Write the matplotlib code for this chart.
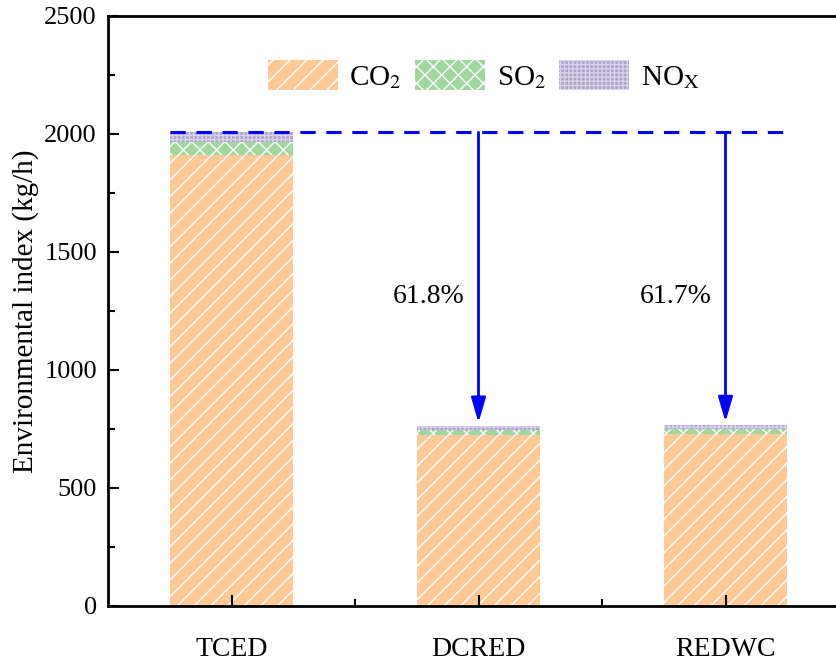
import numpy as np
import matplotlib.pyplot as plt
from matplotlib.patches import Patch

plt.rcParams['font.family'] = ['Liberation Serif', 'DejaVu Serif']
plt.rcParams['mathtext.fontset'] = 'stix'

# data (kg/h)
schemes = ['TCED', 'DCRED', 'REDWC']
co2 = np.array([1912, 725, 727])
so2 = np.array([55, 21, 21])
nox = np.array([40, 16, 17])
reductions = ['61.8%', '61.7%']

c_co2 = '#ffc996'
c_so2 = '#9fd79c'
c_nox = '#ada4cc'

fig = plt.figure(figsize=(8.37, 6.66), dpi=100)
ax = fig.add_axes([108 / 837, 60 / 666, 741 / 837, 590 / 666])

x = np.arange(1, len(schemes) + 1)
w = 0.5
ax.bar(x, co2, w, color=c_co2, edgecolor='white', linewidth=0, hatch='//')
ax.bar(x, so2, w, bottom=co2, color=c_so2, edgecolor='white', linewidth=0, hatch='xx')
ax.bar(x, nox, w, bottom=co2 + so2, color=c_nox, edgecolor='#d8d2ea', linewidth=0, hatch='++++')

total = co2 + so2 + nox
# reference line at the TCED total
ax.hlines(total[0], x[0] - w / 2, x[-1] + w / 2, colors='#0000ff',
          linestyles=(0, (5, 3.5)), linewidth=2.2, zorder=3)

for i, lab in zip(range(1, 3), reductions):
    ax.annotate('', xy=(x[i], total[i] + 15), xytext=(x[i], total[0]),
                arrowprops=dict(arrowstyle='-|>,head_length=0.75,head_width=0.22',
                                color='#0000ff', lw=2, mutation_scale=20,
                                shrinkA=0, shrinkB=0))
    ax.text(x[i] - 0.2, 1313, lab, ha='center', va='center', fontsize=20)

ax.set_xlim(0.5, 3.5)
ax.set_ylim(0, 2500)
ax.set_xticks(x)
ax.set_xticklabels(schemes)
ax.set_xticks([1.5, 2.5], minor=True)
ax.set_yticks(np.arange(0, 2501, 500))
ax.set_yticks(np.arange(250, 2500, 500), minor=True)
ax.tick_params(which='both', direction='in', width=1.5, labelsize=19)
ax.tick_params(which='major', length=8)
ax.tick_params(which='minor', length=5)
ax.tick_params(axis='x', pad=22, labelsize=20)
ax.tick_params(axis='y', pad=8)
for s in ax.spines.values():
    s.set_linewidth(2)
ax.set_ylabel('Environmental index (kg/h)', fontsize=21, labelpad=4)

handles = [Patch(facecolor=c_co2, edgecolor='white', linewidth=0, hatch='//'),
           Patch(facecolor=c_so2, edgecolor='white', linewidth=0, hatch='xx'),
           Patch(facecolor=c_nox, edgecolor='#d8d2ea', linewidth=0, hatch='++++')]
ax.legend(handles, [r'CO$_2$', r'SO$_2$', r'NO$_\mathrm{X}$'], ncol=3, frameon=False,
          fontsize=21, loc='upper left', bbox_to_anchor=(0.18, 0.97),
          handlelength=2.4, handleheight=1.2, columnspacing=0.45, handletextpad=0.4)

fig.savefig('out.png', dpi=100)
